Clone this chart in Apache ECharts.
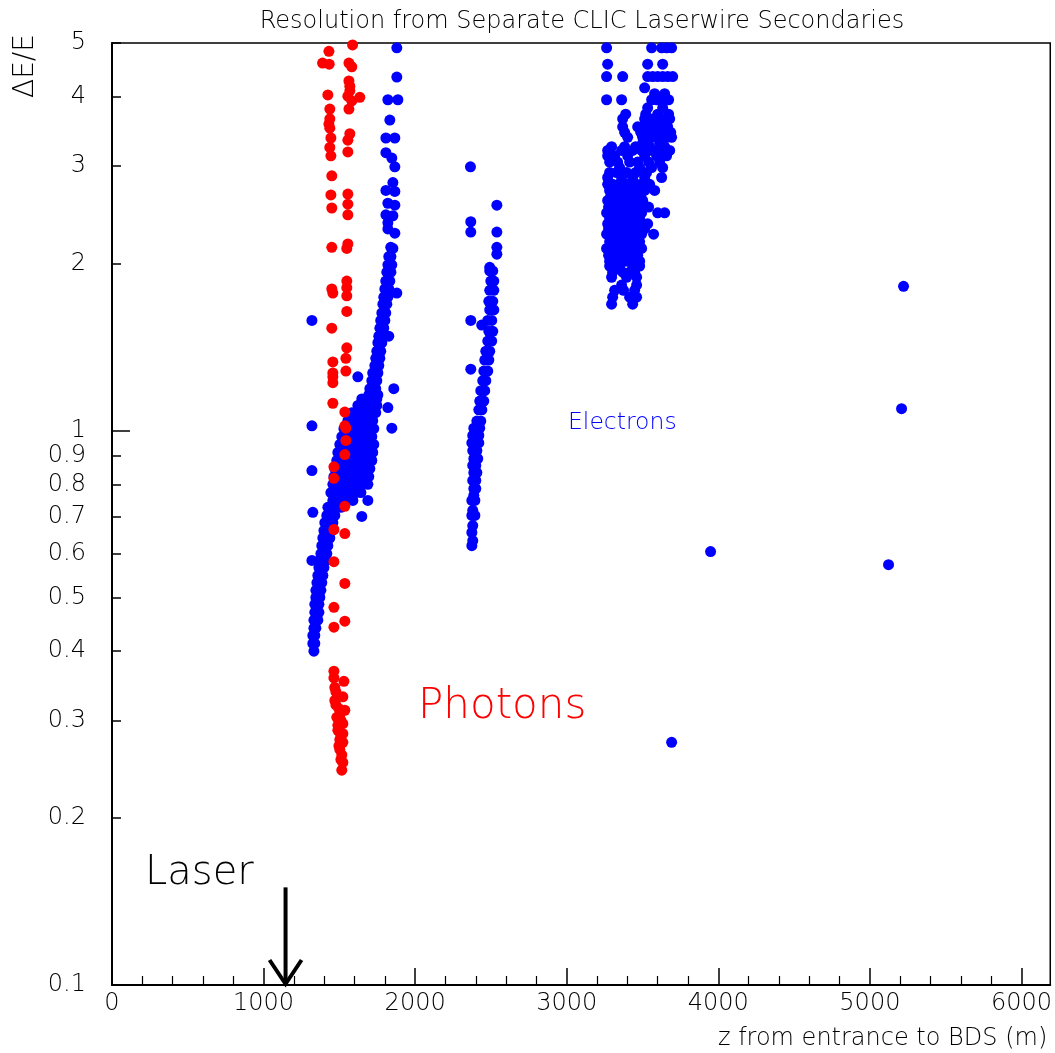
<!DOCTYPE html>
<html><head><meta charset="utf-8">
<script src="https://cdn.jsdelivr.net/npm/echarts@6/dist/echarts.min.js"></script>
<style>html,body{margin:0;padding:0;background:#fff}#c{width:1055px;height:1053px}</style>
</head><body><div id="c"></div>
<script>
// ---- data (z in m, resolution dE/E) ----
const xTickValues = [0, 1000, 2000, 3000, 4000, 5000, 6000];
const yTickValues = [0.1, 0.2, 0.3, 0.4, 0.5, 0.6, 0.7, 0.8, 0.9, 1, 2, 3, 4, 5];
const yMajorTicks = [1];
const laserArrow = [[1145, 0.15, 0.1]];

const photons = [
[1587,4.96],[1431,4.83],[1389,4.60],[1433,4.58],[1563,4.60],[1582,4.53],
[1563,4.27],[1569,4.18],[1569,4.10],[1556,4.01],[1635,3.99],[1582,3.93],[1563,3.80],
[1424,4.03],[1437,3.80],[1437,3.65],[1431,3.57],[1437,3.51],
[1569,3.43],[1556,3.34],[1444,3.37],[1437,3.24],[1444,3.13],[1556,3.18],
[1450,2.88],[1444,2.66],[1450,2.52],[1556,2.67],[1556,2.56],[1556,2.45],
[1450,2.14],[1556,2.17],[1549,2.13],
[1450,1.80],[1457,1.77],[1549,1.86],[1549,1.81],[1549,1.75],[1549,1.64],
[1450,1.53],[1549,1.41],[1543,1.35],[1543,1.28],
[1457,1.33],[1457,1.27],[1457,1.25],[1457,1.22],[1457,1.12],
[1536,1.08],[1536,1.02],[1543,1.01],[1543,0.96],[1536,0.905],
[1464,0.86],[1464,0.82],[1536,0.73],[1464,0.663],[1536,0.652],[1464,0.58],[1536,0.53],[1464,0.48],[1536,0.453],[1464,0.442],
[1464,0.368],[1464,0.358],[1530,0.353],[1470,0.344],[1523,0.331],[1470,0.326],[1536,0.313],[1483,0.304],[1523,0.296],
[1490,0.288],[1523,0.284],[1503,0.277],[1523,0.274],[1503,0.266],[1516,0.26],[1523,0.252],[1516,0.244],
[1477,0.32],[1503,0.307],[1490,0.294],[1510,0.282],[1497,0.27],[1510,0.255],[1477,0.338],[1497,0.315],[1510,0.3]
];

const electronsFirstColumn = [
[1879,4.90],[1879,4.34],[1820,3.95],[1886,3.95],[1833,3.63],[1807,3.37],[1866,3.37],[1807,3.17],[1846,3.10],[1866,2.99],
[1853,2.80],[1807,2.71],[1866,2.70],[1820,2.57],[1866,2.55],[1807,2.45],[1853,2.44],[1820,2.37],[1820,2.31],[1866,2.27],
[1839,2.14],[1853,2.13],[1826,2.06],[1840,2.06],[1820,1.99],[1846,1.99],[1813,1.93],[1840,1.93],[1806,1.86],[1833,1.86],
[1800,1.80],[1826,1.80],[1793,1.74],[1820,1.74],[1787,1.69],[1813,1.69],[1780,1.63],[1806,1.63],[1773,1.58],[1800,1.58],
[1767,1.53],[1793,1.53],[1760,1.48],[1787,1.48],[1754,1.44],[1780,1.44],[1747,1.39],[1773,1.39],[1740,1.35],[1767,1.35],
[1734,1.31],[1760,1.31],[1720,1.27],[1754,1.27],[1714,1.23],[1747,1.23],[1701,1.19],[1740,1.19],[1694,1.16],[1727,1.16],[1754,1.16],
[1879,1.77],[1319,1.58],[1826,1.48],[1622,1.25],[1859,1.19],[1820,1.10],[1319,1.02],[1846,1.01],[1319,0.847],[1325,0.712],
[1319,0.583],[1688,0.748],[1648,0.70],
[1648,1.14],[1681,1.14],[1714,1.14],[1747,1.14],
[1622,1.11],[1655,1.11],[1688,1.11],[1720,1.11],[1747,1.11],
[1582,1.077],[1615,1.077],[1648,1.077],[1681,1.077],[1714,1.077],[1740,1.077],
[1556,1.042],[1589,1.042],[1622,1.042],[1655,1.042],[1688,1.042],[1720,1.042],
[1530,1.008],[1562,1.008],[1595,1.008],[1628,1.008],[1661,1.008],[1694,1.008],[1727,1.008],
[1516,0.975],[1549,0.975],[1582,0.975],[1615,0.975],[1648,0.975],[1681,0.975],[1714,0.975],
[1503,0.944],[1536,0.944],[1569,0.944],[1602,0.944],[1635,0.944],[1668,0.944],[1701,0.944],[1727,0.944],
[1490,0.913],[1523,0.913],[1556,0.913],[1589,0.913],[1622,0.913],[1655,0.913],[1688,0.913],[1720,0.913],
[1483,0.883],[1516,0.883],[1549,0.883],[1582,0.883],[1615,0.883],[1648,0.883],[1681,0.883],[1714,0.883],
[1470,0.854],[1503,0.854],[1536,0.854],[1569,0.854],[1602,0.854],[1635,0.854],[1668,0.854],[1701,0.854],
[1464,0.826],[1497,0.826],[1530,0.826],[1562,0.826],[1595,0.826],[1628,0.826],[1661,0.826],[1694,0.826],
[1457,0.80],[1490,0.80],[1523,0.80],[1556,0.80],[1589,0.80],[1622,0.80],[1655,0.80],[1688,0.80],
[1444,0.773],[1477,0.773],[1510,0.773],[1543,0.773],[1576,0.773],[1609,0.773],[1642,0.773],
[1457,0.748],[1490,0.748],[1523,0.748],[1556,0.748],[1589,0.748],
[1424,0.727],[1450,0.727],[1477,0.727],[1510,0.727],
[1417,0.703],[1444,0.703],[1470,0.703],
[1404,0.682],[1430,0.682],[1457,0.682],
[1398,0.66],[1424,0.66],[1450,0.66],
[1391,0.64],[1417,0.64],[1437,0.64],
[1384,0.62],[1404,0.62],[1424,0.62],
[1378,0.60],[1398,0.60],[1417,0.60],
[1371,0.583],[1391,0.583],[1411,0.583],
[1365,0.566],[1384,0.566],[1398,0.566],
[1358,0.548],[1378,0.548],[1391,0.548],
[1352,0.532],[1371,0.532],[1384,0.532],
[1345,0.515],[1365,0.515],[1378,0.515],
[1345,0.50],[1358,0.50],[1371,0.50],
[1338,0.486],[1352,0.486],[1365,0.486],
[1338,0.47],[1352,0.47],[1365,0.47],
[1332,0.455],[1345,0.455],[1358,0.455],
[1332,0.44],[1345,0.44],
[1325,0.427],[1338,0.427],
[1325,0.413],[1338,0.413],
[1332,0.40]
];

const electronsSecondColumn = [
[2365,2.99],[2539,2.55],[2367,2.38],[2367,2.28],[2539,2.28],[2539,2.14],[2539,2.08],[2492,1.97],[2367,1.58],[2367,1.29],[2439,1.55],
[2492,1.94],[2512,1.94],[2499,1.86],[2519,1.86],[2492,1.79],[2519,1.79],[2486,1.71],[2512,1.71],[2492,1.65],[2519,1.65],
[2479,1.58],[2505,1.58],[2486,1.51],[2512,1.51],[2479,1.45],[2505,1.45],[2466,1.39],[2492,1.39],[2459,1.34],[2486,1.34],
[2453,1.28],[2479,1.28],[2446,1.23],[2466,1.23],[2433,1.18],[2459,1.18],[2426,1.13],[2453,1.13],[2420,1.09],[2440,1.09],
[2407,1.04],[2433,1.04],[2387,1.01],[2407,1.01],[2426,1.01],
[2380,0.98],[2400,0.98],[2420,0.98],[2374,0.95],[2400,0.95],[2420,0.95],[2380,0.92],[2407,0.92],[2387,0.89],[2413,0.89],
[2380,0.865],[2400,0.865],[2387,0.84],[2407,0.84],[2380,0.813],[2400,0.813],[2387,0.786],[2400,0.786],[2387,0.764],
[2374,0.748],[2394,0.748],[2380,0.718],[2374,0.703],[2394,0.703],[2380,0.674],[2374,0.655],[2380,0.633],[2374,0.62]
];

const electronsThirdColumn = [
[3263,4.90],[3560,4.90],[3626,4.90],[3659,4.90],[3692,4.90],
[3270,4.58],[3534,4.58],[3633,4.58],
[3263,4.35],[3369,4.35],[3534,4.35],[3567,4.35],[3600,4.35],[3633,4.35],[3666,4.35],[3699,4.35],
[3514,4.15],[3580,4.05],[3646,4.05],
[3263,3.95],[3362,3.95],[3560,3.95],[3593,3.95],[3626,3.95],[3672,3.95],
[3534,3.82],[3633,3.82],
[3389,3.72],[3521,3.72],[3600,3.72],[3672,3.72],
[3369,3.65],[3514,3.65],[3547,3.65],[3580,3.65],[3613,3.65],[3646,3.65],[3679,3.65],
[3369,3.53],[3468,3.53],[3501,3.53],[3534,3.53],[3567,3.53],[3600,3.53],[3633,3.53],[3666,3.53],
[3382,3.45],[3488,3.45],[3554,3.45],[3620,3.45],[3686,3.45],
[3402,3.38],[3501,3.38],[3560,3.38],[3593,3.38],[3626,3.38],[3659,3.38],[3692,3.38],
[3501,3.30],[3534,3.30],[3613,3.30],
[3296,3.25],[3382,3.25],[3455,3.25],[3547,3.25],[3646,3.25],
[3270,3.20],[3362,3.20],[3435,3.20],[3494,3.20],[3527,3.20],[3560,3.20],[3593,3.20],[3626,3.20],[3659,3.20],[3679,3.20],
[3270,3.13],[3316,3.13],[3402,3.13],[3514,3.13],[3593,3.13],[3659,3.13],
[3283,3.05],[3336,3.05],[3415,3.05],[3468,3.05],[3540,3.05],[3613,3.05],
[3349,2.98],[3481,2.98],[3560,2.98],[3633,2.98],
[3283,2.92],[3329,2.92],[3395,2.92],[3455,2.92],[3527,2.92],
[3270,2.86],[3362,2.86],[3435,2.86],[3514,2.86],[3626,2.86],
[3270,2.78],[3303,2.78],[3342,2.78],[3402,2.78],[3461,2.78],[3494,2.78],[3547,2.78],
[3283,2.71],[3316,2.71],[3349,2.71],[3382,2.71],[3415,2.71],[3448,2.71],[3481,2.71],[3514,2.71],[3580,2.71],
[3290,2.65],[3322,2.65],[3356,2.65],[3389,2.65],[3422,2.65],[3455,2.65],[3488,2.65],
[3270,2.60],[3303,2.60],[3336,2.60],[3369,2.60],[3402,2.60],[3435,2.60],[3468,2.60],[3501,2.60],
[3276,2.53],[3309,2.53],[3342,2.53],[3375,2.53],[3408,2.53],[3441,2.53],[3474,2.53],[3540,2.53],
[3263,2.47],[3296,2.47],[3329,2.47],[3362,2.47],[3395,2.47],[3428,2.47],[3461,2.47],[3494,2.47],[3600,2.47],[3646,2.47],
[3283,2.41],[3316,2.41],[3349,2.41],[3382,2.41],[3415,2.41],[3448,2.41],[3481,2.41],
[3270,2.36],[3303,2.36],[3336,2.36],[3369,2.36],[3402,2.36],[3435,2.36],[3468,2.36],[3501,2.36],[3534,2.36],
[3276,2.31],[3309,2.31],[3342,2.31],[3375,2.31],[3408,2.31],[3441,2.31],[3474,2.31],[3514,2.31],
[3263,2.26],[3296,2.26],[3329,2.26],[3362,2.26],[3395,2.26],[3428,2.26],[3461,2.26],[3494,2.26],[3573,2.26],
[3283,2.19],[3316,2.19],[3349,2.19],[3382,2.19],[3415,2.19],[3448,2.19],[3481,2.19],
[3263,2.13],[3296,2.13],[3329,2.13],[3362,2.13],[3395,2.13],[3428,2.13],[3461,2.13],[3494,2.13],
[3276,2.07],[3309,2.07],[3342,2.07],[3375,2.07],[3408,2.07],[3441,2.07],[3468,2.07],
[3283,2.02],[3316,2.02],[3349,2.02],[3382,2.02],[3415,2.02],[3448,2.02],[3481,2.02],
[3283,1.98],[3349,1.98],[3435,1.98],[3481,1.98],
[3303,1.93],[3369,1.93],[3415,1.93],[3448,1.93],
[3296,1.89],[3395,1.89],[3461,1.89],
[3362,1.83],[3461,1.83],
[3316,1.79],[3375,1.79],[3448,1.79],
[3303,1.74],[3415,1.74],[3461,1.74],
[3296,1.69],[3435,1.69]
];

const electronsIsolated = [[5222,1.82],[5209,1.095],[3949,0.605],[5123,0.573],[3692,0.274]];

// ---- chart ----
const FONT = 'DejaVu Sans';
const TXT = '#000';
const chart = echarts.init(document.getElementById('c'), null, {renderer: 'canvas'});
const dot = (color) => ({type: 'scatter', symbol: 'circle', symbolSize: 11, itemStyle: {color: color, opacity: 1}, silent: true, animation: false});

chart.setOption({
  backgroundColor: '#fff',
  animation: false,
  grid: {left: 112, right: 4, top: 43, bottom: 68, show: true, borderColor: '#000', borderWidth: 1.5, backgroundColor: 'transparent'},
  xAxis: {
    type: 'value', min: 0, max: 6190, interval: 1000,
    axisLine: {show: true, lineStyle: {color: '#000', width: 2}},
    axisTick: {show: true, inside: true, length: 17, lineStyle: {color: '#000', width: 1.5}, customValues: xTickValues},
    minorTick: {show: true, splitNumber: 5, length: 9, lineStyle: {color: '#000', width: 1.2}},
    axisLabel: {show: true, customValues: xTickValues, formatter: (v) => String(v), margin: 7, fontFamily: FONT, fontWeight: 200, fontSize: 24, color: TXT},
    splitLine: {show: false},
    name: 'z from entrance to BDS (m)', nameLocation: 'end', nameGap: 0,
    nameTextStyle: {fontFamily: FONT, fontWeight: 200, fontSize: 24, color: TXT, align: 'right', verticalAlign: 'top', padding: [42, 3, 0, 0]}
  },
  yAxis: [{
    type: 'log', logBase: 10, min: 0.1, max: 5,
    axisLine: {show: true, lineStyle: {color: '#000', width: 2}},
    axisTick: {show: true, inside: true, length: 9, lineStyle: {color: '#000', width: 1.5}, customValues: yTickValues},
    axisLabel: {show: true, customValues: yTickValues, margin: 26, fontFamily: FONT, fontWeight: 200, fontSize: 24, color: TXT},
    splitLine: {show: false}, minorTick: {show: false},
    name: 'ΔE/E', nameLocation: 'end', nameGap: 9, nameRotate: 90,
    nameTextStyle: {fontFamily: FONT, fontWeight: 200, fontSize: 28, color: TXT, align: 'right', verticalAlign: 'bottom', padding: [0, 0, 72, 0]}
  }, {
    type: 'log', logBase: 10, min: 0.1, max: 5, position: 'left', offset: 0,
    axisLine: {show: false},
    axisTick: {show: true, inside: true, length: 18, lineStyle: {color: '#000', width: 1.5}, customValues: yMajorTicks},
    axisLabel: {show: false}, splitLine: {show: false}
  }],
  graphic: [
    {type: 'text', x: 582, y: 22, style: {text: 'Resolution from Separate CLIC Laserwire Secondaries', fontFamily: FONT, fontWeight: 200, fontSize: 24, fill: TXT, align: 'center', verticalAlign: 'middle'}},
    {type: 'text', x: 145, y: 874, style: {text: 'Laser', fontFamily: FONT, fontWeight: 200, fontSize: 40, fill: TXT, align: 'left', verticalAlign: 'middle'}},
    {type: 'text', x: 418, y: 707, style: {text: 'Photons', fontFamily: FONT, fontWeight: 200, fontSize: 42, fill: '#ff0000', align: 'left', verticalAlign: 'middle'}},
    {type: 'text', x: 568, y: 423, style: {text: 'Electrons', fontFamily: FONT, fontWeight: 200, fontSize: 23.5, fill: '#0000ff', align: 'left', verticalAlign: 'middle'}}
  ],
  series: [
    Object.assign(dot('#0000ff'), {name: 'Electrons', data: electronsFirstColumn}),
    Object.assign(dot('#0000ff'), {name: 'Electrons 2', data: electronsSecondColumn}),
    Object.assign(dot('#0000ff'), {name: 'Electrons 3', data: electronsThirdColumn}),
    Object.assign(dot('#0000ff'), {name: 'Electrons 4', data: electronsIsolated}),
    Object.assign(dot('#ff0000'), {name: 'Photons', data: photons, z: 3}),
    {
      type: 'custom', name: 'Laser', data: laserArrow, encode: {x: 0, y: [1, 2]}, clip: false, silent: true, z: 5,
      renderItem: function (params, api) {
        const top = api.coord([api.value(0), api.value(1)]);
        const tip = api.coord([api.value(0), api.value(2)]);
        return {type: 'group', children: [
          {type: 'line', shape: {x1: top[0], y1: top[1], x2: tip[0], y2: tip[1] - 3}, style: {stroke: '#000', lineWidth: 4}},
          {type: 'polyline', shape: {points: [[tip[0] - 16, tip[1] - 25], [tip[0], tip[1] - 1], [tip[0] + 16, tip[1] - 25]]}, style: {stroke: '#000', lineWidth: 4, fill: null}}
        ]};
      }
    }
  ]
});
</script>
</body></html>
